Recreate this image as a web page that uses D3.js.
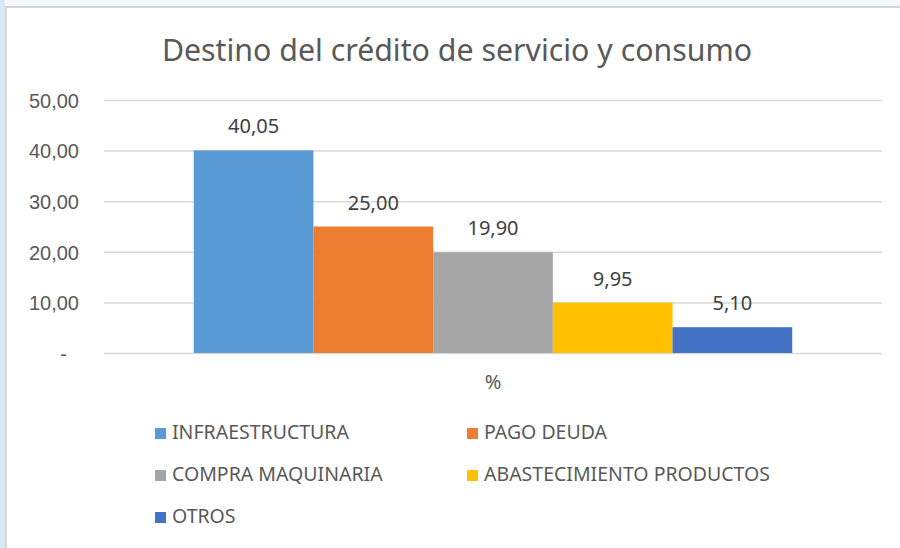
<!DOCTYPE html>
<html>
<head>
<meta charset="utf-8">
<script src="https://cdn.jsdelivr.net/npm/d3@7"></script>
<style>
  html, body { margin: 0; padding: 0; background: #f3f6fa; }
  svg { display: block; font-family: "Noto Sans", sans-serif; }
</style>
</head>
<body>
<script>
// data
let categories = ['%']
let series = ['INFRAESTRUCTURA', 'PAGO DEUDA', 'COMPRA MAQUINARIA', 'ABASTECIMIENTO PRODUCTOS', 'OTROS']
let values = [40.05, 25.00, 19.90, 9.95, 5.10]
let tickValues = [0, 10, 20, 30, 40, 50]
let colors = ['#5b9bd5', '#ed7d31', '#a5a5a5', '#ffc000', '#4472c4']

let width = 900
let height = 548
let margin = ({top: 100, right: 18, bottom: 195, left: 104})

let locale = d3.formatLocale({decimal: ',', thousands: '.', grouping: [3], currency: ['', '']})
let fmt = locale.format(',.2f')
let tickFmt = d => d === 0 ? '-' : fmt(d)

const svg = d3.select('body').append('svg')
    .attr('width', width)
    .attr('height', height)

// frame like the sheet the chart sits in
svg.append('rect').attr('x', 0).attr('y', 0).attr('width', width).attr('height', height).attr('fill', '#f3f6fa')
svg.append('rect').attr('x', 0).attr('y', 0).attr('width', 5).attr('height', height).attr('fill', '#dce7f4')
svg.append('rect').attr('x', 5).attr('y', 6).attr('width', width).attr('height', height).attr('fill', '#d6d6d6')
svg.append('rect').attr('x', 7).attr('y', 8).attr('width', width).attr('height', height).attr('fill', '#fff')

let x0 = d3.scaleBand()
    .domain(categories)
    .range([margin.left, width - margin.right])

let x1 = d3.scaleBand()
    .domain(series)
    .range([0, x0.bandwidth()])
    .paddingInner(0)
    .paddingOuter(0.75)

let y = d3.scaleLinear()
    .domain([0, 50])
    .range([height - margin.bottom, margin.top])

let color = d3.scaleOrdinal().domain(series).range(colors)

let rows = series.map((s, i) => ({name: s, value: values[i]}))

// grid + tick labels
let yAxis = g => g
    .attr('transform', `translate(${margin.left},0)`)
    .call(d3.axisLeft(y).tickValues(tickValues).tickFormat(tickFmt)
      .tickSize(-(width - margin.left - margin.right)).tickPadding(25))
    .call(g => g.select('.domain').remove())
    .call(g => g.selectAll('.tick line').attr('stroke', '#d9d9d9').attr('stroke-width', 1.5))
    .call(g => g.selectAll('.tick text')
      .attr('fill', '#595959')
      .style('font-size', '20px')
      .attr('dy', '0.36em'))
    .call(g => g.selectAll('.tick').filter(d => d === 0).select('text').attr('dx', -12))

svg.append('g').call(yAxis)

svg.append('g')
    .attr('transform', `translate(${x0('%')},0)`)
  .selectAll('rect')
  .data(rows)
  .join('rect')
    .attr('x', d => x1(d.name))
    .attr('y', d => y(d.value))
    .attr('width', x1.bandwidth())
    .attr('height', d => y(0) - y(d.value))
    .attr('fill', d => color(d.name))

svg.append('g')
    .attr('transform', `translate(${x0('%')},0)`)
  .selectAll('text')
  .data(rows)
  .join('text')
    .attr('x', d => x1(d.name) + x1.bandwidth() / 2)
    .attr('y', d => y(d.value) - 17)
    .attr('text-anchor', 'middle')
    .attr('fill', '#404040')
    .style('font-size', '20px')
    .text(d => fmt(d.value))

// category label
svg.append('text')
    .attr('x', x0('%') + x0.bandwidth() / 2)
    .attr('y', 389)
    .attr('text-anchor', 'middle')
    .attr('fill', '#595959')
    .style('font-size', '20px')
    .text('%')

svg.append('text')
    .attr('x', 457)
    .attr('y', 61)
    .attr('text-anchor', 'middle')
    .attr('fill', '#595959')
    .style('font-size', '30.3px')
    .text('Destino del crédito de servicio y consumo')

// legend, two columns
let legend = svg.append('g')
  .selectAll('g')
  .data(series)
  .join('g')
    .attr('transform', (d, i) => `translate(${i % 2 ? 467 : 155},${439 + Math.floor(i / 2) * 42})`)

legend.append('rect')
    .attr('x', 0)
    .attr('y', -11)
    .attr('width', 11)
    .attr('height', 11)
    .attr('fill', d => color(d))

legend.append('text')
    .attr('x', 17)
    .attr('y', 0)
    .attr('fill', '#595959')
    .style('font-size', '19.5px')
    .text(d => d)
</script>
</body>
</html>
